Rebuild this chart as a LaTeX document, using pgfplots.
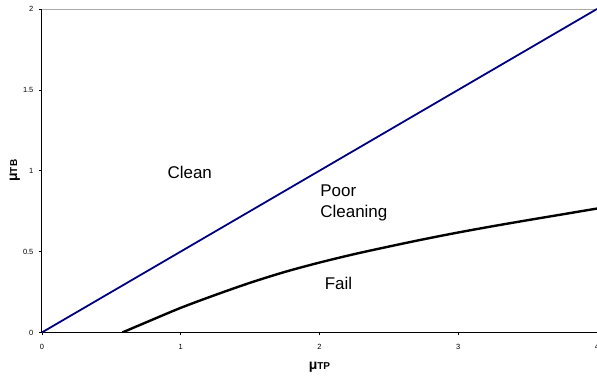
\documentclass[border=0pt]{standalone}
\usepackage{pgfplots}
\pgfplotsset{compat=1.18}
\usepackage{fontspec}
\setmainfont{Liberation Sans}
\definecolor{navyline}{RGB}{0,0,128}
\definecolor{topline}{RGB}{170,170,170}
\begin{document}
\begin{tikzpicture}
\begin{axis}[
  name=ax,
  scale only axis,
  width=556pt, height=324pt,
  xmin=0, xmax=4, ymin=0, ymax=2,
  xtick={0,1,2,3,4},
  ytick={0,0.5,1,1.5,2},
  axis x line*=bottom,
  axis y line*=left,
  axis line style={-, black, line width=0.9pt},
  tick align=outside,
  major tick length=3pt,
  tick style={black, line width=0.6pt},
  /pgf/number format/assume math mode=true,
  tick label style={font=\fontsize{7.5}{9}\selectfont},
  xticklabel style={yshift=-5.5pt},
  yticklabel style={xshift=-2pt},
  xlabel={\bfseries\fontsize{14}{14}\selectfont μ\fontsize{10}{10}\selectfont TP},
  ylabel={\bfseries\fontsize{14}{14}\selectfont μ\fontsize{10}{10}\selectfont TB},
  xlabel style={at={(axis description cs:0.5,-0.108)}, anchor=center},
  ylabel style={at={(axis description cs:-0.0486,0.5)}, anchor=center},
]
\addplot[topline, line width=0.8pt, forget plot] coordinates {(0,2) (4,2)};
\addplot[navyline, line width=1.8pt] coordinates {(0,0) (4,2)};
\addplot[black, line width=2.4pt, smooth] coordinates {
  (0.58,0) (0.75,0.062) (1.0,0.152) (1.25,0.232) (1.5,0.307)
  (1.75,0.374) (2.0,0.432) (2.25,0.484) (2.5,0.531) (2.75,0.576) (3.0,0.618)
  (3.25,0.657) (3.5,0.694) (3.75,0.730) (4.0,0.766)};
\node[font=\fontsize{17}{21.5}\selectfont, inner sep=0pt] at (axis cs:1.065,0.99) {Clean};
\node[font=\fontsize{17}{21.5}\selectfont, inner sep=0pt, anchor=west, align=left] at (axis cs:2.005,0.80) {Poor\\Cleaning};
\node[font=\fontsize{17}{21.5}\selectfont, inner sep=0pt] at (axis cs:2.137,0.305) {Fail};
\end{axis}
\pgfresetboundingbox
\path[use as bounding box] ([xshift=-42pt,yshift=-46pt]ax.south west) rectangle ([yshift=9pt]ax.north east);
\end{tikzpicture}
\end{document}
